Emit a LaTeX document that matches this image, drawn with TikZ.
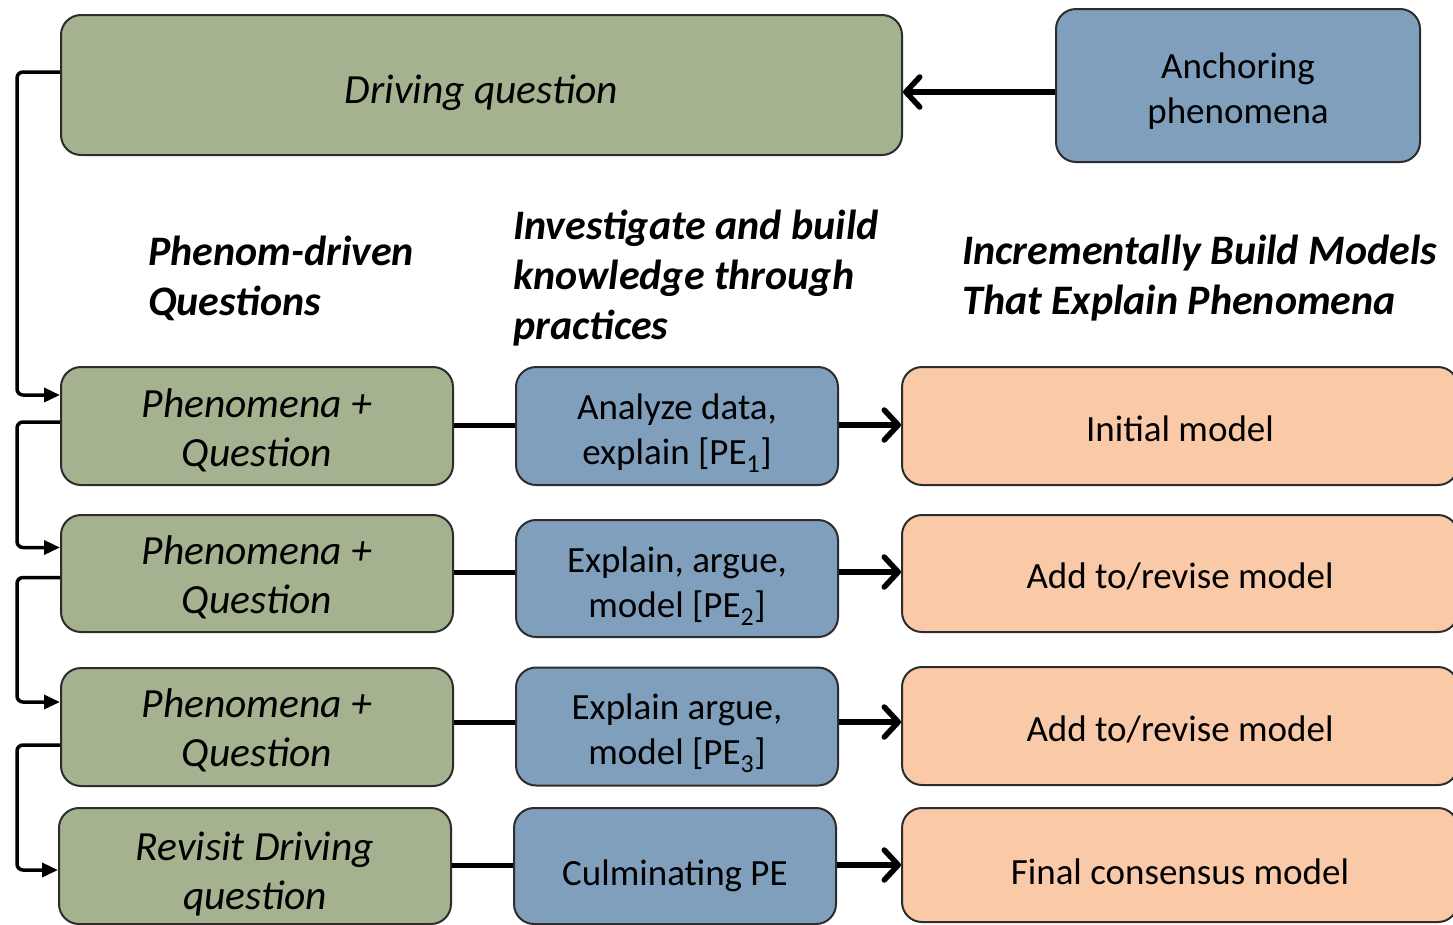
\documentclass[tikz,border=0pt]{standalone}
\usepackage{fontspec}
\setmainfont{Carlito}
\usetikzlibrary{arrows.meta,calc}
\definecolor{gfill}{RGB}{164,178,143}
\definecolor{bfill}{RGB}{127,159,189}
\definecolor{pfill}{RGB}{249,201,168}
\definecolor{edge}{RGB}{45,45,45}
\newcommand{\tx}[2]{\raisebox{-#1pt}[\height][\depth]{\begin{tabular}{@{}c@{}}#2\end{tabular}}}
\begin{document}
\begin{tikzpicture}[x=1pt,y=-1pt,
  basebox/.style={draw=edge,line width=2pt,rounded corners=20pt,align=center,inner sep=0pt,text=black},
  gbox/.style={basebox,fill=gfill,font=\fontsize{41.5}{49}\selectfont\itshape},
  bbox/.style={basebox,fill=bfill,font=\fontsize{37}{45}\selectfont},
  pbox/.style={basebox,fill=pfill,font=\fontsize{37}{45}\selectfont},
  hdr/.style={align=left,anchor=west,inner sep=0pt,font=\fontsize{42}{50}\selectfont\bfseries\itshape},
  lconn/.style={line width=3.5pt,rounded corners=6pt,-{Triangle[length=16pt,width=14pt]}},
  rconn/.style={line width=5.5pt,-{Straight Barb[length=14pt,width=30pt,line width=5.5pt,round]}},
  pconn/.style={line width=5pt}
]
\useasboundingbox (0,0) rectangle (1453,924);
\clip (0,0) rectangle (1453,924);
\fill[white] (0,0) rectangle (1453,924);

\node[gbox,minimum width=841pt,minimum height=140pt] (dq) at (481.5,85) {\tx{9}{Driving question}};
\node[bbox,minimum width=364pt,minimum height=153pt] (anch) at (1238,85.5) {\tx{6.5}{Anchoring\\phenomena}};

\node[hdr] (h1) at (148,278) {Phenom-driven\\Questions};
\node[hdr] (h2) at (513,278) {Investigate and build\\knowledge through\\practices};
\node[hdr] (h3) at (962,278) {Incrementally Build Models\\That Explain Phenomena};

\node[gbox,minimum width=392pt,minimum height=118pt] (g1) at (257,426) {\tx{6}{Phenomena +\\Question}};
\node[bbox,minimum width=322pt,minimum height=118pt] (b1) at (677,426) {\tx{6.5}{Analyze data,\\explain [PE\textsubscript{1}]}};
\node[pbox,minimum width=556pt,minimum height=118pt] (p1) at (1180,426) {\tx{6}{Initial model}};

\node[gbox,minimum width=392pt,minimum height=117pt] (g2) at (257,573.5) {\tx{6}{Phenomena +\\Question}};
\node[bbox,minimum width=322pt,minimum height=117pt] (b2) at (677,578.5) {\tx{7}{Explain, argue,\\model [PE\textsubscript{2}]}};
\node[pbox,minimum width=556pt,minimum height=117pt] (p2) at (1180,573.5) {\tx{6}{Add to/revise model}};

\node[gbox,minimum width=392pt,minimum height=118pt] (g3) at (257,727) {\tx{5.5}{Phenomena +\\Question}};
\node[bbox,minimum width=322pt,minimum height=118pt] (b3) at (677,726.5) {\tx{6.5}{Explain argue,\\model [PE\textsubscript{3}]}};
\node[pbox,minimum width=556pt,minimum height=118pt] (p3) at (1180,726) {\tx{6}{Add to/revise model}};

\node[gbox,minimum width=392pt,minimum height=116pt] (g4) at (255,866) {\tx{9}{Revisit Driving\\question}};
\node[bbox,minimum width=322pt,minimum height=116pt] (b4) at (675,866) {\tx{10}{Culminating PE}};
\node[pbox,minimum width=556pt,minimum height=114pt] (p4) at (1180,865) {\tx{10}{Final consensus model}};

% anchoring -> driving question
\draw[rconn] (anch.west |- 0,92) -- (dq.east |- 0,92);

% row connectors
\draw[pconn] (g1.east |- 0,425) -- (b1.west |- 0,425);
\draw[rconn] (b1.east |- 0,425) -- (p1.west |- 0,425);
\draw[pconn] (g2.east |- 0,572) -- (b2.west |- 0,572);
\draw[rconn] (b2.east |- 0,572) -- (p2.west |- 0,572);
\draw[pconn] (g3.east |- 0,722) -- (b3.west |- 0,722);
\draw[rconn] (b3.east |- 0,722) -- (p3.west |- 0,722);
\draw[pconn] (g4.east |- 0,865) -- (b4.west |- 0,865);
\draw[rconn] (b4.east |- 0,865) -- (p4.west |- 0,865);

% left loop connectors
\draw[lconn] ($(dq.west)+(0,-13)$) -- ++(-43,0) |- ($(g1.west)+(0,-31)$);
\draw[lconn] ($(g1.west)+(0,-4)$) -- ++(-43,0) |- ($(g2.west)+(0,-26)$);
\draw[lconn] ($(g2.west)+(0,4)$) -- ++(-43,0) |- ($(g3.west)+(0,-25)$);
\draw[lconn] ($(g3.west)+(0,18)$) -- ++(-43,0) |- ($(g4.west)+(0,4)$);
\end{tikzpicture}
\end{document}
